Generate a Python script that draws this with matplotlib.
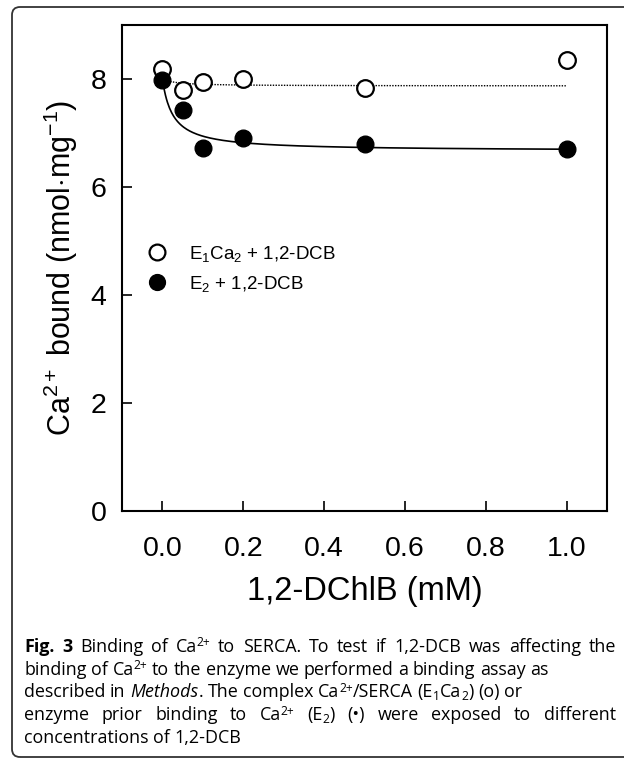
import numpy as np
import matplotlib
matplotlib.use("Agg")
import matplotlib.pyplot as plt
from matplotlib.patches import FancyBboxPatch

plt.rcParams["font.family"] = ["Liberation Sans", "DejaVu Sans"]
plt.rcParams["mathtext.fontset"] = "custom"
plt.rcParams["mathtext.rm"] = "Liberation Sans"
plt.rcParams["mathtext.it"] = "Liberation Sans:italic"

# Data
conc = [0.0, 0.05, 0.1, 0.2, 0.5, 1.0]
e1ca2 = [8.18, 7.80, 7.94, 8.00, 7.84, 8.35]
e2 = [7.99, 7.43, 6.72, 6.90, 6.79, 6.70]

# hyperbolic decay fits y = y0 - a*x/(k+x)
fit_e1ca2 = (8.01, 0.14, 0.03)
fit_e2 = (8.0, 1.334, 0.026)

x_ticks = [0.0, 0.2, 0.4, 0.6, 0.8, 1.0]
y_ticks = [0, 2, 4, 6, 8]

fig = plt.figure(figsize=(6.24, 7.6), dpi=100)

# rounded frame around figure + caption
frame = FancyBboxPatch((12, 3), 640, 750, boxstyle="round,pad=0,rounding_size=8",
                       transform=None, facecolor="none", edgecolor="#333333",
                       linewidth=1.3, clip_on=False)
fig.patches.append(frame)

ax = fig.add_axes([122 / 624, 249 / 760, 485 / 624, 486 / 760])

xs = np.linspace(0, 1.0, 400)
y0, a, k = fit_e1ca2
ax.plot(xs, y0 - a * xs / (k + xs), color="black", lw=1.0, ls=(0, (1, 1)))
y0, a, k = fit_e2
ax.plot(xs, y0 - a * xs / (k + xs), color="black", lw=1.2)

ax.plot(conc, e1ca2, "o", ms=12, mfc="white", mec="black", mew=1.6,
        label=r"E$_1$Ca$_2$ + 1,2-DCB")
ax.plot(conc, e2, "o", ms=12, mfc="black", mec="black",
        label=r"E$_2$ + 1,2-DCB")

ax.set_xlim(-0.1, 1.1)
ax.set_ylim(0, 9)
ax.set_xticks(x_ticks)
ax.set_xticklabels([f"{v:.1f}" for v in x_ticks])
ax.set_yticks(y_ticks)
ax.tick_params(direction="in", length=7, width=1.2, labelsize=20.5)
ax.tick_params(axis="x", pad=18)
ax.tick_params(axis="y", pad=11)
for s in ax.spines.values():
    s.set_linewidth(1.5)

ax.set_xlabel("1,2-DChlB (mM)", fontsize=23.5, labelpad=10)
ax.set_ylabel(r"Ca$^{2+}$ bound (nmol$\cdot$mg$^{-1}$)", fontsize=22, labelpad=8)

ax.legend(loc="upper left", bbox_to_anchor=(0.015, 0.585), frameon=False,
          fontsize=13.5, markerscale=0.95, handlelength=1.2, handletextpad=1.1,
          labelspacing=0.55)

# caption, set word by word so lines 1 and 4 can be justified
renderer = fig.canvas.get_renderer()
cap_font = ["Open Sans", "DejaVu Sans"]
cap_size = 12.9
x_left, x_right = 24, 616
styles = {
    "n": {},
    "b": {"weight": "bold"},
    "i": {"style": "italic"},
    "sup": {"fontsize": cap_size * 0.68},
    "sub": {"fontsize": cap_size * 0.68},
}
shift = {"sup": -5.5, "sub": 3.0}


def px_width(t):
    return t.get_window_extent(renderer).width * 624 / fig.bbox.width


def split_words(segs):
    words = [[]]
    for txt, kind in segs:
        if kind in ("sup", "sub"):
            words[-1].append((txt, kind))
            continue
        parts = txt.split(" ")
        for j, p in enumerate(parts):
            if j > 0:
                words.append([])
            if p:
                words[-1].append((p, kind))
    return [w for w in words if w]


probe = fig.text(0, 0, "x x", fontsize=cap_size, family=cap_font)
probe2 = fig.text(0, 0, "xx", fontsize=cap_size, family=cap_font)
space_w = px_width(probe) - px_width(probe2)
probe.remove()
probe2.remove()


def write_line(y, segs, justify=False):
    placed = []
    for word in split_words(segs):
        arts, w = [], 0.0
        for txt, kind in word:
            st = dict(fontsize=cap_size)
            st.update(styles[kind])
            t = fig.text(0, 1 - (y + shift.get(kind, 0)) / 760, txt, family=cap_font,
                         va="baseline", ha="left", **st)
            arts.append((t, w))
            w += px_width(t)
        placed.append((arts, w))
    total = sum(w for _, w in placed)
    gap = space_w
    if justify and len(placed) > 1:
        gap = (x_right - x_left - total) / (len(placed) - 1)
    x = x_left
    for arts, w in placed:
        for t, off in arts:
            t.set_x((x + off) / 624)
        x += w + gap


lines = [
    ([("Fig. 3", "b"), (" Binding of Ca", "n"), ("2+", "sup"),
      (" to SERCA. To test if 1,2-DCB was affecting the", "n")], True),
    ([("binding of Ca", "n"), ("2+", "sup"),
      (" to the enzyme we performed a binding assay as", "n")], False),
    ([("described in ", "n"), ("Methods", "i"), (". The complex Ca", "n"), ("2+", "sup"),
      ("/SERCA (E", "n"), ("1", "sub"), ("Ca", "n"), ("2", "sub"), (") (o) or", "n")], False),
    ([("enzyme prior binding to Ca", "n"), ("2+", "sup"), (" (E", "n"), ("2", "sub"),
      (") (\u2022) were exposed to different", "n")], True),
    ([("concentrations of 1,2-DCB", "n")], False),
]
for i, (segs, just) in enumerate(lines):
    write_line(652 + i * 22.7, segs, just)

fig.savefig("out.png", dpi=100)
